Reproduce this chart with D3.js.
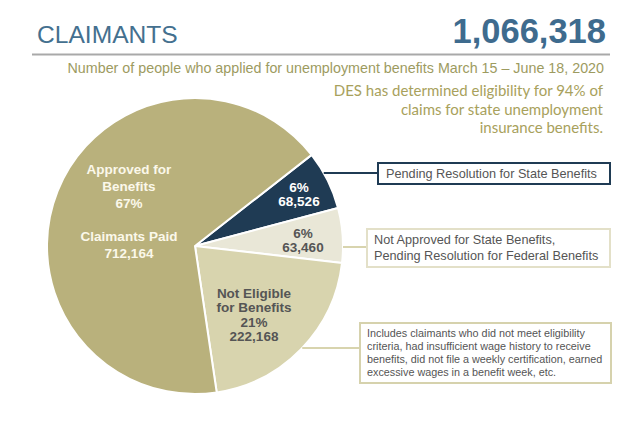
<!DOCTYPE html>
<html>
<head>
<meta charset="utf-8">
<script src="https://cdn.jsdelivr.net/npm/d3@7"></script>
<style>
	body { margin: 0; background: #fff; }
	svg { display: block; font-family: "Liberation Sans", Arial, sans-serif; }
</style>
</head>
<body>
<div id="chart"></div>
<script>
// claimants pie, drawn in slice order starting from the dark one
var categories = ['Pending Resolution for State Benefits', 'Not Approved for State Benefits', 'Not Eligible for Benefits', 'Approved for Benefits'];
var values = [68526, 63460, 222168, 712164];
var percentLabels = ['6%', '6%', '21%', '67%'];
var total = 1066318;

var sliceColors = ['#1f3b54', '#e9e7d7', '#d8d4ae', '#b9b17c'];
var labelColors = ['#ffffff', '#555555', '#555555', '#fbf8ea'];

var width = 640, height = 422;
var cx = 195, cy = 246, radius = 148;
var fmt = d3.format(',');

var svg = d3.select('#chart')
	.append('svg')
		.attr('width', width)
		.attr('height', height);

// header
svg.append('text')
	.attr('x', 37).attr('y', 43)
	.attr('font-size', 24.6)
	.attr('fill', '#44708f')
	.text('CLAIMANTS');

svg.append('text')
	.attr('x', 606).attr('y', 43)
	.attr('text-anchor', 'end')
	.attr('font-size', 34.5)
	.attr('font-weight', 'bold')
	.attr('fill', '#3e6b8e')
	.text(fmt(total));

svg.append('line')
	.attr('x1', 32).attr('x2', 610)
	.attr('y1', 54.5).attr('y2', 54.5)
	.attr('stroke', '#a9a9a9')
	.attr('stroke-width', 2);

svg.append('text')
	.attr('x', 604).attr('y', 73)
	.attr('text-anchor', 'end')
	.attr('font-size', 14.3)
	.attr('fill', '#9d9b5f')
	.text('Number of people who applied for unemployment benefits March 15 \u2013 June 18, 2020');

var desLines = ['DES has determined eligibility for 94% of', 'claims for state unemployment', 'insurance benefits.'];
svg.append('g').selectAll('text')
	.data(desLines)
	.enter().append('text')
		.attr('x', 603)
		.attr('y', function(d, i) { return 96 + i*18.5; })
		.attr('text-anchor', 'end')
		.attr('font-family', 'Lato, "Open Sans", sans-serif')
		.attr('font-size', 15)
		.attr('fill', '#a8a15c')
		.text(function(d) { return d; });

// pie
var pie = d3.pie()
	.sort(null)
	.startAngle(52*Math.PI/180)
	.endAngle(52*Math.PI/180 + 2*Math.PI);
var arcs = pie(values);
var arc = d3.arc().innerRadius(0).outerRadius(radius);

var g = svg.append('g').attr('transform', 'translate(' + cx + ',' + cy + ')');
g.selectAll('path')
	.data(arcs)
	.enter().append('path')
		.attr('d', arc)
		.attr('fill', function(d, i) { return sliceColors[i]; })
		.attr('stroke', '#ffffff')
		.attr('stroke-width', 2)
		.attr('stroke-linejoin', 'round');

// slice labels
var sliceText = [
	{ lines: [percentLabels[0], fmt(values[0])], x: 299, y: 192 },
	{ lines: [percentLabels[1], fmt(values[1])], x: 303, y: 238 },
	{ lines: ['Not Eligible', 'for Benefits', percentLabels[2], fmt(values[2])], x: 254, y: 298 },
	{ lines: ['Approved for', 'Benefits', percentLabels[3], '', 'Claimants Paid', fmt(values[3])], x: 129, y: 174 }
];
sliceText.forEach(function(s, k)
{
	var t = svg.append('text')
		.attr('text-anchor', 'middle')
		.attr('font-size', 13.5)
		.attr('font-weight', 'bold')
		.attr('fill', labelColors[k]);
	var dy = (k == 3) ? 16.8 : 14.3;
	s.lines.forEach(function(line, i)
	{
		t.append('tspan')
			.attr('x', s.x)
			.attr('y', s.y + i*dy)
			.text(line);
	});
});

// call-out boxes with leader lines from the pie edge
var notes = [
	{ slice: 0, lines: ['Pending Resolution for State Benefits'], x: 378, y: 163, w: 232, h: 21, ly: 173, stroke: '#1f3b54', fs: 12.7, lh: 15, pad: 8 },
	{ slice: 1, lines: ['Not Approved for State Benefits,', 'Pending Resolution for Federal Benefits'], x: 367, y: 229, w: 243, h: 38, ly: 247, stroke: '#e3e0c8', fs: 12.7, lh: 16, pad: 7 },
	{ slice: 2, lines: ['Includes claimants who did not meet eligibility', 'criteria, had insufficient wage history to receive', 'benefits, did not file a weekly certification, earned', 'excessive wages in a benefit week, etc.'], x: 360, y: 323, w: 251, h: 60, ly: 348, stroke: '#d6d2ad', fs: 10.8, lh: 12.8, pad: 7 }
];
notes.forEach(function(n)
{
	var edgeX = cx + Math.sqrt(radius*radius - (n.ly - cy)*(n.ly - cy));
	svg.append('line')
		.attr('x1', edgeX).attr('x2', n.x)
		.attr('y1', n.ly).attr('y2', n.ly)
		.attr('stroke', n.slice == 0 ? '#1f3b54' : sliceColors[2])
		.attr('stroke-width', 2);
	svg.append('rect')
		.attr('x', n.x).attr('y', n.y)
		.attr('width', n.w).attr('height', n.h)
		.attr('fill', '#ffffff')
		.attr('stroke', n.stroke)
		.attr('stroke-width', 2);
	var t = svg.append('text')
		.attr('font-size', n.fs)
		.attr('fill', '#555555');
	var top = n.y + (n.h - n.lines.length*n.lh)/2 + n.lh*0.78;
	n.lines.forEach(function(line, i)
	{
		t.append('tspan')
			.attr('x', n.x + n.pad)
			.attr('y', top + i*n.lh)
			.text(line);
	});
});
</script>
</body>
</html>
